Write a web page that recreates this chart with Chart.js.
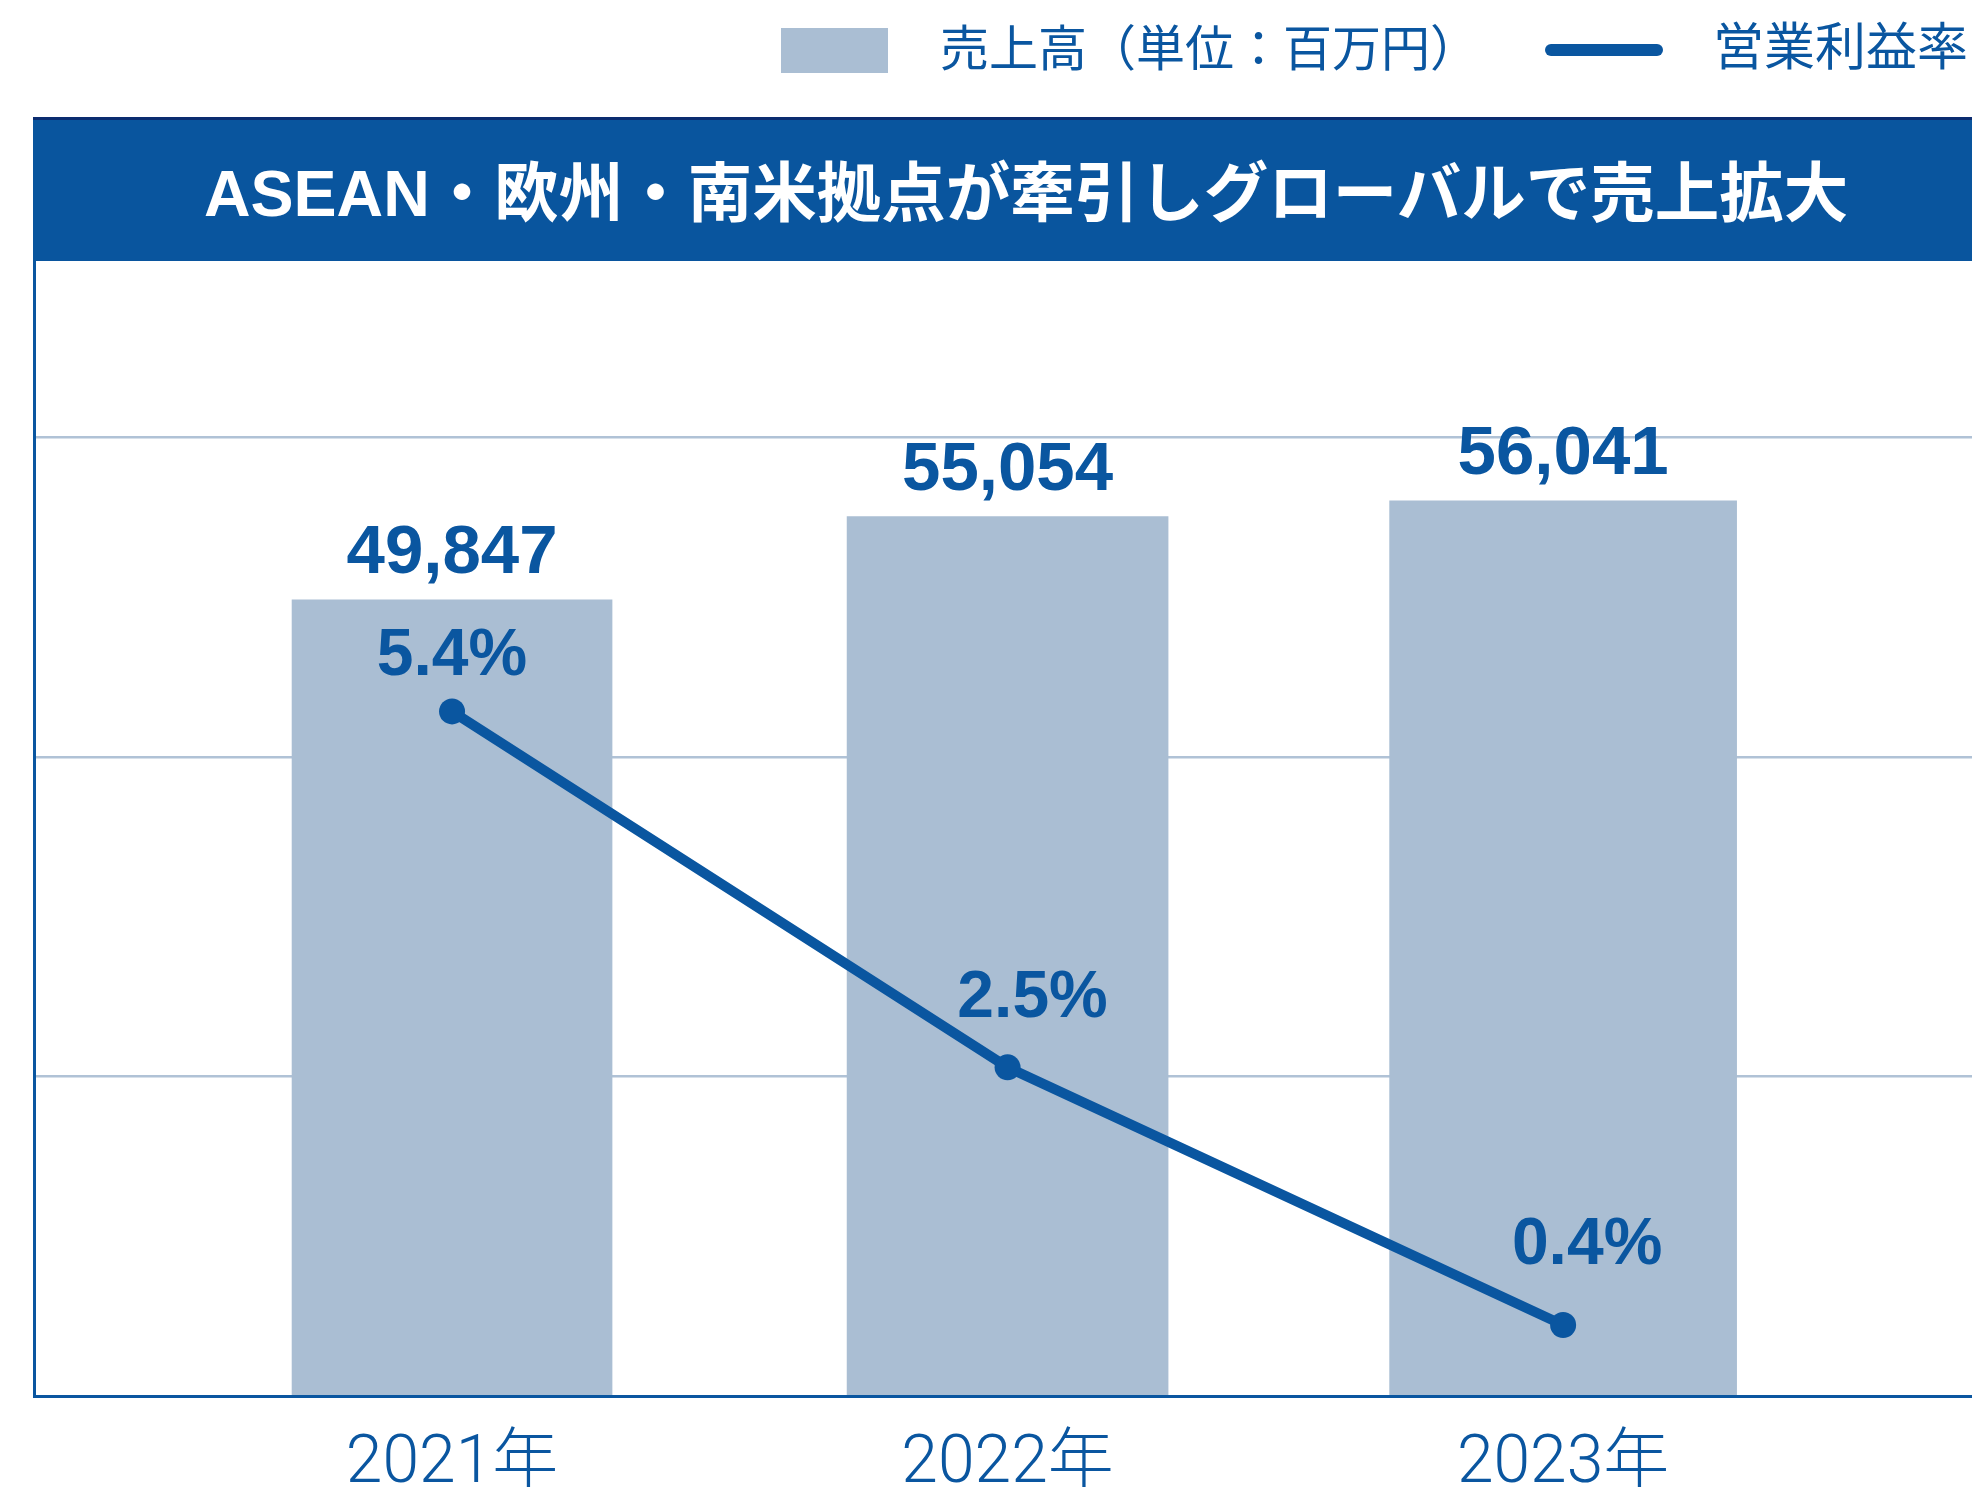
<!DOCTYPE html>
<html lang="ja">
<head>
<meta charset="utf-8">
<script src="https://cdn.jsdelivr.net/npm/chart.js@4.4.0/dist/chart.umd.min.js"></script>
<style>
  html, body { margin:0; padding:0; background:#fff; width:1972px; height:1487px; overflow:hidden; }
  #stage { position:absolute; left:0; top:0; width:1972px; height:1487px; overflow:hidden; }
  #chart { position:absolute; left:0; top:0; }
  .legend-box { position:absolute; left:781px; top:28px; width:107px; height:45px; background:#aabed3; }
  .legend-text { position:absolute; top:20px; font-family:"Noto Sans CJK JP", sans-serif; font-size:49px; line-height:49px; color:#0a56a0; white-space:nowrap; }
  .legend-line { position:absolute; left:1545px; top:44px; width:118px; height:12px; border-radius:6px; background:#0a56a0; }
  #band { position:absolute; left:33px; top:117px; width:1939px; height:144px; background:#09559e; border-top:3px solid #0b2c70; box-sizing:border-box; }
  #title { position:absolute; left:204px; top:122px; height:144px; line-height:144px; font-weight:bold; font-size:64.5px; font-family:"Liberation Sans", "Noto Sans CJK JP", sans-serif; color:#fff; white-space:nowrap; }
</style>
</head>
<body>
<div id="stage">
  <canvas id="chart" width="1972" height="1487"></canvas>
  <div class="legend-box"></div>
  <div class="legend-text" style="left:940px;">売上高（単位：百万円）</div>
  <div class="legend-line"></div>
  <div class="legend-text" style="left:1713px; font-size:51px; top:19px;">営業利益率</div>
  <div id="band"></div>
  <div id="title">ASEAN・欧州・南米拠点が牽引しグローバルで売上拡大</div>
</div>
<script>
// ---- data ----
const categories = ['2021年', '2022年', '2023年'];
const sales = [49847, 55054, 56041];          // 売上高（百万円）
const operatingMargin = [5.4, 2.5, 0.4];      // 営業利益率（%）
const salesGridTicks = [0, 20000, 40000, 60000];

// ---- style ----
const BLUE = '#0a56a0';
const BAR = '#aabed3';
const GRID = '#b0c2d6';
const barWidths = [320, 321, 347];
const pctLabelOffsets = [[0, -36], [25, -50], [24, -61]];

function fmt(n) { return String(n).replace(/\B(?=(\d{3})+(?!\d))/g, ','); }

const labelPlugin = {
  id: 'valueLabels',
  afterDatasetsDraw(chart) {
    const ctx = chart.ctx;
    const xs = chart.scales.x, ys = chart.scales.y, y2 = chart.scales.y2;
    ctx.save();
    ctx.fillStyle = BLUE;
    ctx.textAlign = 'center';
    ctx.textBaseline = 'alphabetic';
    ctx.font = 'bold 69px "Liberation Sans", Arial, sans-serif';
    sales.forEach((v, i) => {
      ctx.fillText(fmt(v), xs.getPixelForValue(i), ys.getPixelForValue(v) - 27);
    });
    ctx.font = 'bold 66px "Liberation Sans", Arial, sans-serif';
    operatingMargin.forEach((v, i) => {
      const o = pctLabelOffsets[i];
      ctx.fillText(v.toFixed(1) + '%', xs.getPixelForValue(i) + o[0], y2.getPixelForValue(v) + o[1]);
    });
    ctx.restore();
  }
};

const barDatasets = sales.map((v, i) => ({
  type: 'bar',
  label: '売上高（単位：百万円）',
  data: [{ x: i, y: v }],
  backgroundColor: BAR,
  borderWidth: 0,
  barThickness: barWidths[i],
  grouped: false,
  yAxisID: 'y',
  order: 2
}));

const lineDataset = {
  type: 'line',
  label: '営業利益率',
  data: operatingMargin.map((v, i) => ({ x: i, y: v })),
  borderColor: BLUE,
  borderWidth: 10,
  pointRadius: 13,
  pointBackgroundColor: BLUE,
  pointBorderWidth: 0,
  tension: 0,
  yAxisID: 'y2',
  order: 0
};

new Chart(document.getElementById('chart'), {
  data: { datasets: [...barDatasets, lineDataset] },
  options: {
    responsive: false,
    animation: false,
    events: [],
    layout: { autoPadding: false, padding: { left: 34, top: 261, right: 0, bottom: 0 } },
    plugins: { legend: { display: false }, tooltip: { enabled: false } },
    scales: {
      x: {
        type: 'linear',
        position: 'bottom',
        offset: false,
        min: -0.7525,
        max: 2.736,
        afterBuildTicks: (scale) => { scale.ticks = categories.map((_, i) => ({ value: i })); },
        afterFit: (scale) => { scale.height = 91; scale.paddingLeft = 0; scale.paddingRight = 0; },
        ticks: {
          autoSkip: false,
          maxRotation: 0,
          padding: 30,
          color: BLUE,
          font: { family: 'Roboto, "Noto Sans CJK JP", sans-serif', size: 66, weight: '300' },
          callback: (v) => categories[v]
        },
        grid: { display: false, drawTicks: false, offset: false },
        border: { display: true, color: BLUE, width: 3, z: 1 }
      },
      y: {
        type: 'linear',
        position: 'left',
        min: 0,
        max: 71050,
        afterBuildTicks: (scale) => { scale.ticks = salesGridTicks.map(v => ({ value: v })); },
        afterFit: (scale) => { scale.width = 0; },
        ticks: { display: false },
        grid: {
          drawTicks: false,
          color: (c) => (c.tick && c.tick.value === 0) ? 'rgba(0,0,0,0)' : GRID,
          lineWidth: 2.5
        },
        border: { display: true, color: BLUE, width: 3 }
      },
      y2: {
        type: 'linear',
        position: 'right',
        display: false,
        min: -0.178,
        max: 9.07
      }
    }
  },
  plugins: [labelPlugin]
});
</script>
</body>
</html>
